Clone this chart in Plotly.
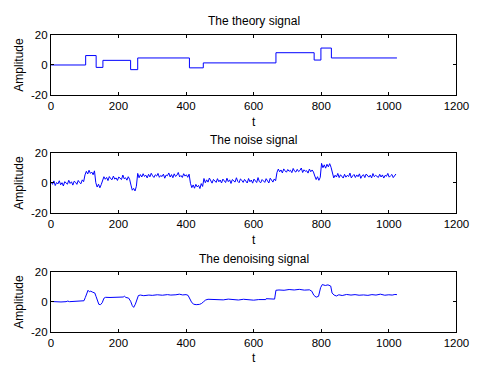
import plotly.graph_objects as go

# ---------------- data ----------------
# theory signal: piecewise-constant blocks (edge positions and levels)
theory_edges = [1, 103, 134, 154, 236, 257, 410, 451, 666, 779, 799, 830, 1024]
theory_levels = [0.0, 6.3, -1.6, 3.1, -3.1, 4.7, -1.9, 1.4, 8.2, 3.3, 11.3, 4.7]

# noisy signal, sampled every 4 points
noise_t = list(range(1, 1025, 4))
noise_values = [
    0.6, -0.9, 1.4, -1.7, 0.3, -0.6, 1.5, -1.2, 0.2, -2.0, 0.9, 0.0, -0.8, 1.8, -0.3,
    0.8, -1.4, 1.2, 0.5, -0.9, 1.7, 0.3, -0.5, 2.1, 0.9,
    5.4, 7.8, 6.0, 8.5, 6.4, 7.3, 5.5, 8.1,
    0.2, -2.7, -0.8, -3.2, -1.1,
    2.0, 4.2, 2.5, 3.7, 1.6, 4.3, 2.9, 2.2, 4.6, 2.6, 3.4, 1.7, 4.0, 3.1, 2.3, 5.3,
    2.8, 3.5, 1.9, 4.2, 2.5,
    -1.4, -4.8, -3.6, -5.3, -2.2,
    6.4, 3.5, 5.6, 4.0, 6.2, 4.4, 5.2, 3.4, 5.8, 4.1, 6.5, 4.8, 3.7, 5.5, 4.6, 6.4,
    3.8, 5.0, 4.3, 5.9, 3.2, 5.3, 4.9, 6.7, 4.0, 5.6, 3.5, 6.1, 4.4, 5.2, 7.0, 4.1,
    5.0, 3.7, 6.2, 4.6, 5.5, 3.8, 5.9,
    -0.2, -3.1, -1.3, -3.5, -0.9, -2.6, -1.6, -3.7, -0.4, -2.3,
    3.0, 0.2, 2.1, 0.6, 3.3, 1.1, -0.1, 2.4, 1.7, 0.4, 2.9, 0.8, 2.0, 0.0, 2.6, 1.4,
    0.3, 3.2, 0.9, 2.1, -0.3, 2.3, 1.5, 0.6, 3.5, 1.1, 0.2, 2.7, 1.8, 0.4, 2.4, 1.2,
    0.0, 3.0, 0.8, 2.0, -0.1, 2.6, 1.7, 0.3, 3.6, 0.9, 0.2, 2.3, 1.4, 0.4, 2.9, 1.1,
    0.0, 3.2, 1.8, 0.6, 2.7, 1.5,
    7.0, 9.3, 7.5, 8.7, 6.7, 9.4, 8.1, 7.2, 9.0, 7.8, 8.5, 6.9, 9.7, 7.9, 7.3, 9.1,
    7.6, 8.4, 10.0, 7.0, 8.8, 7.8, 8.2, 6.6, 9.3, 7.5, 8.7, 7.3,
    4.6, 2.3, 4.2, 1.8, 3.7,
    13.1, 10.2, 12.1, 9.9, 12.5, 10.8, 12.9, 10.5,
    6.0, 3.4, 5.2, 4.0, 6.4, 3.6, 5.5, 4.5, 3.3, 5.8, 3.9, 5.1, 4.3, 6.6, 3.4, 4.8,
    5.7, 3.7, 5.4, 4.2, 6.1, 3.1, 4.9, 5.5, 3.6, 6.0, 4.5, 3.9, 5.2, 3.4, 6.3, 4.2,
    5.1, 4.6, 3.7, 5.8, 4.0, 5.4, 3.3, 5.1, 4.5, 6.4, 3.9, 4.8, 5.7, 3.6, 5.2, 6.0,
]

# denoised signal, key points
denoise_t = [
    1, 15, 30, 45, 50, 55, 70, 85, 98, 102, 106, 110, 114, 118, 124, 130, 134, 138,
    142, 147, 152, 157, 162, 175, 190, 205, 214, 218, 222, 230, 236, 241, 245, 250,
    255, 259, 265, 275, 290, 300, 315, 330, 345, 355, 370, 380, 390, 400, 406, 411,
    416, 422, 430, 440, 446, 452, 458, 465, 480, 495, 510, 525, 540, 555, 570, 585,
    600, 615, 630, 636, 637, 650, 662, 666, 675, 690, 705, 720, 735, 750, 765, 772,
    778, 785, 792, 798, 803, 812, 820, 828, 832, 838, 845, 852, 862, 875, 888, 900,
    912, 925, 938, 950, 962, 975, 988, 1000, 1010, 1018, 1024,
]
denoise_values = [
    0.3, 0.1, 0.0, 0.2, 0.6, 0.2, 0.4, 0.5, 0.8, 3.0, 5.5, 7.8, 6.8, 7.2, 6.5, 6.0,
    3.5, 0.0, -1.6, -1.8, -0.5, 2.5, 3.1, 3.0, 3.1, 3.0, 3.3, 3.8, 3.0, 2.6, 0.5,
    -2.5, -3.6, -1.5, 2.0, 4.3, 4.6, 4.2, 4.6, 4.4, 4.8, 4.5, 4.9, 4.6, 4.8, 5.2,
    4.7, 4.9, 4.4, 2.0, 0.0, -1.5, -1.8, -1.6, -1.0, 0.2, 1.3, 1.8, 1.5, 1.7, 1.4,
    1.9, 1.6, 1.3, 1.8, 1.5, 1.2, 1.6, 1.4, 1.6, 2.2, 1.8, 1.9, 7.8, 8.0, 7.8, 8.3,
    8.0, 8.4, 7.9, 8.1, 7.2, 4.5, 3.2, 3.8, 9.5, 11.6, 11.0, 11.4, 10.6, 6.0, 4.6,
    4.0, 4.8, 4.3, 5.0, 4.6, 4.9, 4.5, 4.7, 4.4, 4.9, 4.6, 5.2, 4.5, 4.8, 4.6, 5.0,
    4.9,
]

titles = ["The theory signal", "The noise signal", "The denoising signal"]
x_ticks = [0, 200, 400, 600, 800, 1000, 1200]
y_ticks = [-20, 0, 20]

# ---------------- figure ----------------
W, H = 482, 366
px_left, px_right = 49.5, 469
panels_px = [(30, 92), (152, 214), (275, 337)]  # top, bottom in pixels
title_px = [15, 139, 262]
xlabel_px = [120, 242, 364]

FONT = "Liberation Sans, Arial, sans-serif"
BLUE = "#0000FF"

fig = go.Figure()

theory_y = theory_levels + [theory_levels[-1]]
series = [
    dict(x=theory_edges, y=theory_y, line_shape="hv"),
    dict(x=noise_t, y=noise_values, line_shape="linear"),
    dict(x=denoise_t, y=denoise_values, line_shape="linear"),
]

layout = dict(
    width=W, height=H,
    margin=dict(l=0, r=0, t=0, b=0),
    paper_bgcolor="white", plot_bgcolor="white",
    showlegend=False,
    font=dict(family=FONT, size=11.5, color="black"),
)
annotations = []
for i, (s, (top, bot)) in enumerate(zip(series, panels_px)):
    k = "" if i == 0 else str(i + 1)
    fig.add_trace(go.Scatter(
        x=s["x"], y=s["y"], mode="lines", line=dict(color=BLUE, width=1, shape=s["line_shape"]),
        xaxis="x" + k, yaxis="y" + k, hoverinfo="skip",
    ))
    axis_common = dict(
        showline=True, linecolor="black", linewidth=1, mirror="allticks",
        ticks="inside", ticklen=3, tickcolor="black", tickwidth=1,
        showgrid=False, zeroline=False,
        tickfont=dict(family=FONT, size=11.5, color="black"),
    )
    layout["xaxis" + k] = dict(
        axis_common, domain=[px_left / W, px_right / W], range=[0, 1200],
        tickmode="array", tickvals=x_ticks, ticktext=[str(v) for v in x_ticks],
        anchor="y" + k,
    )
    layout["yaxis" + k] = dict(
        axis_common, domain=[1 - bot / H, 1 - top / H], range=[-20, 20],
        tickmode="array", tickvals=y_ticks, ticktext=[str(v) for v in y_ticks],
        anchor="x" + k,
        title=dict(text="Amplitude", font=dict(family=FONT, size=12, color="black"), standoff=4),
    )
    annotations.append(dict(
        text=titles[i], xref="paper", yref="paper",
        x=(px_left + px_right) / 2 / W, y=1 - title_px[i] / H,
        xanchor="center", yanchor="middle", showarrow=False,
        font=dict(family=FONT, size=12, color="black"),
    ))
    annotations.append(dict(
        text="t", xref="paper", yref="paper",
        x=(px_left + px_right) / 2 / W, y=1 - xlabel_px[i] / H,
        xanchor="center", yanchor="middle", showarrow=False,
        font=dict(family=FONT, size=12, color="black"),
    ))

layout["annotations"] = annotations
fig.update_layout(**layout)
fig.write_html("out.html")
